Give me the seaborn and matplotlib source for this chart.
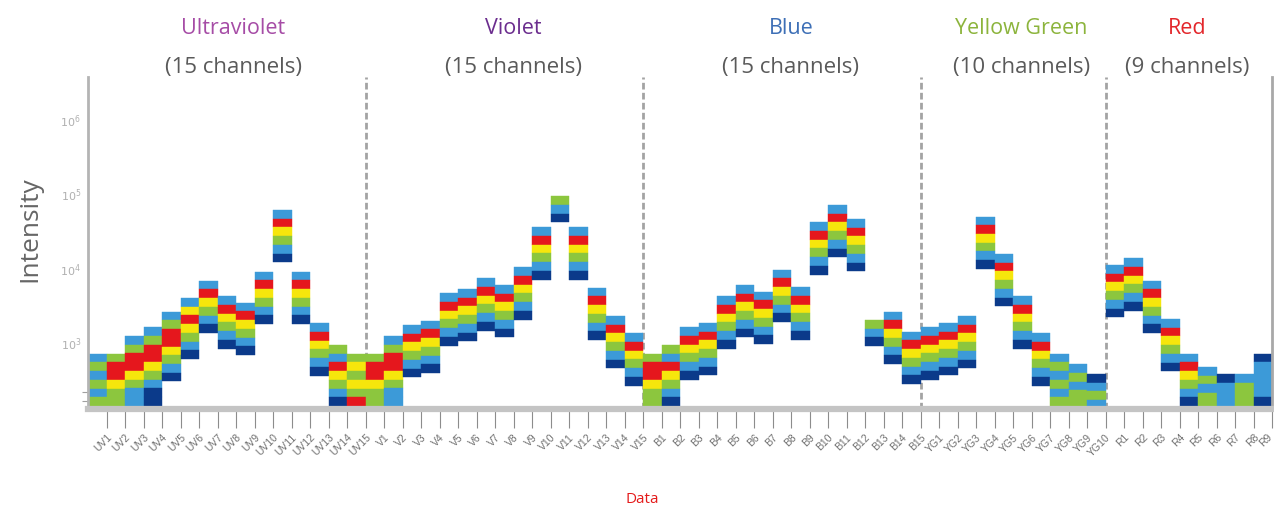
import numpy as np
import pandas as pd
import matplotlib
matplotlib.use("Agg")
import matplotlib.pyplot as plt
import matplotlib.transforms as mtransforms
from matplotlib.ticker import FixedLocator, NullFormatter
import seaborn as sns

# ---- data ---------------------------------------------------------------
laser_names = ["Ultraviolet", "Violet", "Blue", "Yellow Green", "Red"]
channel_counts = [15, 15, 15, 10, 9]
laser_colors = ["#a64ca6", "#6b2d8e", "#3d6fb6", "#8cb43c", "#e3262b"]

uv_labels = ["UV1", "UV2", "UV3", "UV4", "UV5", "UV6", "UV7", "UV8",
             "UV9", "UV10", "UV11", "UV12", "UV13", "UV14", "UV15"]
v_labels = ["V1", "V2", "V3", "V4", "V5", "V6", "V7", "V8",
            "V9", "V10", "V11", "V12", "V13", "V14", "V15"]
b_labels = ["B1", "B2", "B3", "B4", "B5", "B6", "B7", "B8",
            "B9", "B10", "B11", "B12", "B13", "B14", "B15"]
yg_labels = ["YG1", "YG2", "YG3", "YG4", "YG5", "YG6", "YG7", "YG8",
             "YG9", "YG10"]
r_labels = ["R1", "R2", "R3", "R4", "R5", "R6", "R7", "R8", "R9"]

# upper edge of each channel's stack (intensity)
uv_top = [708, 708, 1223, 1600, 2590, 3950, 6760, 4170, 3420, 8910,
          60100, 8910, 1810, 925, 708]
v_top = [708, 1223, 1718, 1963, 4570, 5225, 7280, 5915, 10200, 35200,
         91600, 35200, 5445, 2270, 1330]
b_top = [708, 925, 1600, 1828, 4170, 5915, 4810, 9490, 5510, 41000,
         70100, 45500, 2000, 2590, 1397]
yg_top = [1600, 1828, 2270, 48900, 15420, 4170, 1330, 708, 509, 378]
r_top = [10970, 13490, 6760, 2065, 708, 469, 378, 378, 708]

# colour bands of each stack, read top -> bottom
# D dark blue, B light blue, G green, Y yellow, R red
uv_bands = ["BGBGBG", "GRRYGG", "BGRRYGBB", "BGRRYGBDD", "BGRRYGBD",
            "BYRYGBD", "BRYGBD", "BRYGBD", "BRYGBD", "BRYGBD",
            "BRYGBD", "BRYGBD", "BRYGBD", "GBRYGBD", "GYGYGR"]
v_bands = ["GRRYGG", "BGRRYGBB", "BRYGBD", "BRYGBD", "BRYGBD",
           "BRYGBD", "BRYGBD", "BRYGBD", "BRYGBD", "BRYGBD",
           "GBD", "BRYGBD", "BRYGBD", "BRYGBD", "BRYGBD"]
b_bands = ["GRRYGG", "GBRYGBD", "BRYGBD", "BRYGBD", "BRYGBD",
           "BRYGBD", "BRYGBD", "BRYGBD", "BRYGBD", "BRYGBD",
           "BRYGBD", "BRYGBD", "GBD", "BRYGBD", "BRYGBD"]
yg_bands = ["BRYGBD", "BRYGBD", "BRYGBD", "BRYGBD", "BRYGBD",
            "BRYGBD", "BRYGBD", "BGBGBG", "BGBGG", "DBGB"]
r_bands = ["BRYGBD", "BRYGBD", "BRYGBD", "BRYGBD", "BRYGBD",
           "BGBGG", "DBBB", "BGGG", "DBBBBD"]

band_palette = {"D": "#0b3a8a", "B": "#3c9ad8", "G": "#8cc63e",
                "Y": "#f6e60c", "R": "#e5171d"}
BAND_DECADES = 0.117  # height of one band on the log axis

# ---- assemble -----------------------------------------------------------
labels = uv_labels + v_labels + b_labels + yg_labels + r_labels
tops = uv_top + v_top + b_top + yg_top + r_top
codes = uv_bands + v_bands + b_bands + yg_bands + r_bands

rows = []
for i, (top, code) in enumerate(zip(tops, codes)):
    upper = np.log10(top)
    for j, c in enumerate(code):
        hi = upper - j * BAND_DECADES
        lo = hi - BAND_DECADES
        rows.append({"channel": i, "low": 10 ** lo, "high": 10 ** hi,
                     "color": band_palette[c]})
bands = pd.DataFrame(rows)

# ---- figure -------------------------------------------------------------
sns.set_theme(style="white")
plt.rcParams["font.family"] = ["Open Sans", "DejaVu Sans"]

W, H = 1274, 510
fig = plt.figure(figsize=(W / 100, H / 100), dpi=100)
ax = fig.add_axes([88 / W, 1 - 410 / H, (1272 - 88) / W, (410 - 78) / H])

ax.bar(bands["channel"], bands["high"] - bands["low"], bottom=bands["low"],
       width=1.0, align="edge", color=bands["color"],
       edgecolor=bands["color"], linewidth=0.3, zorder=2)

ax.set_yscale("log")
ax.set_ylim(128, 3.66e6)
ax.set_xlim(0, len(labels))

# laser separators
bounds = np.cumsum(channel_counts)[:-1]
for b in bounds:
    ax.axvline(b, color="#a3a3a3", lw=2.0, ls=(0, (2.4, 1.2)), zorder=1)

# spines
sns.despine(ax=ax, top=True, right=False, left=False, bottom=False)
ax.spines["bottom"].set_color("#c4c4c4")
ax.spines["bottom"].set_linewidth(4.5)
ax.spines["bottom"].set_zorder(3)
ax.spines["left"].set_color("#b4b4b4")
ax.spines["left"].set_linewidth(2.0)
ax.spines["right"].set_color("#a8a8a8")
ax.spines["right"].set_linewidth(2.0)

# y axis
ax.set_yticks([1e3, 1e4, 1e5, 1e6])
ax.set_yticklabels([r"$10^{3}$", r"$10^{4}$", r"$10^{5}$", r"$10^{6}$"],
                   fontsize=8, color="#b0b0b0", family="DejaVu Sans")
ax.yaxis.set_minor_locator(FixedLocator([165, 217]))
ax.yaxis.set_minor_formatter(NullFormatter())
ax.tick_params(axis="y", which="major", left=True, length=0, pad=5)
ax.tick_params(axis="y", which="minor", left=True, length=4, width=0.8,
               color="#a0a0a0")

# x axis
ax.set_xticks(np.arange(1, len(labels) + 1))
ax.set_xticklabels(labels, rotation=45, ha="right", rotation_mode="anchor",
                   fontsize=7.5, color="#707070", family="Liberation Sans")
ax.tick_params(axis="x", which="major", bottom=True, length=14, width=0.8,
               color="#8c8c8c", pad=2, direction="out")
# keep the last label inside the canvas
last = ax.get_xticklabels()[-1]
last.set_transform(last.get_transform()
                   + mtransforms.ScaledTranslation(-5 / 100, 0,
                                                   fig.dpi_scale_trans))
ax.set_xlabel("")
ax.set_ylabel("")

# laser headings
trans = mtransforms.blended_transform_factory(ax.transData, fig.transFigure)
starts = np.concatenate([[0], np.cumsum(channel_counts)[:-1]])
nudge = [0.35, 0.5, 0.5, 0.45, -0.1]
for name, n, s, col, dx in zip(laser_names, channel_counts, starts,
                               laser_colors, nudge):
    cx = s + n / 2 + dx
    ax.text(cx, 1 - 28 / H, name, transform=trans, ha="center",
            va="center", fontsize=15.5, color=col)
    ax.text(cx, 1 - 67 / H, f"({n} channels)", transform=trans,
            ha="center", va="center", fontsize=16, color="#5a5a5a")

fig.text(30 / W, 1 - 229 / H, "Intensity", rotation=90, ha="center",
         va="center", fontsize=19, color="#666666")
fig.text(642 / W, 1 - 500 / H, "Data", ha="center", va="center",
         fontsize=11, color="#e41a1a")

fig.savefig("out.png", dpi=100)
